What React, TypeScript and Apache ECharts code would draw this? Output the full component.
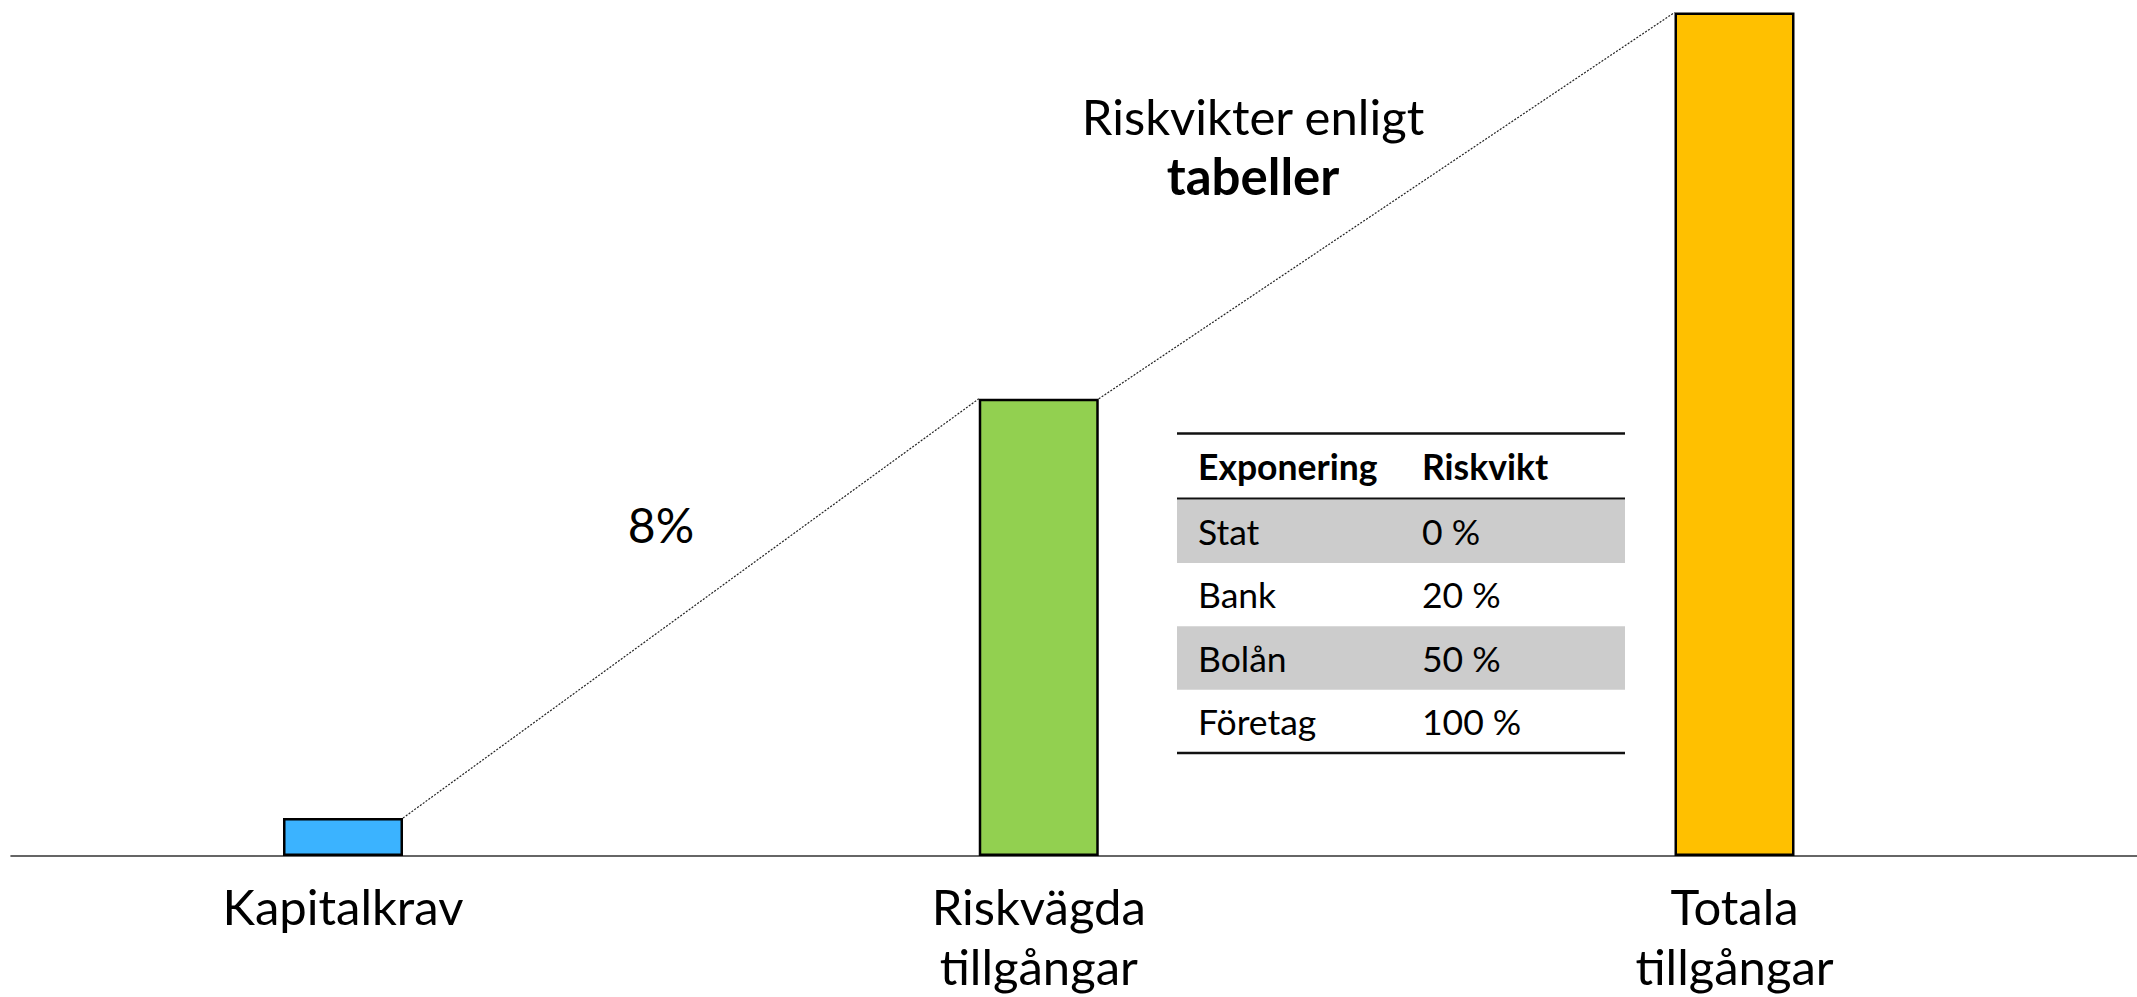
import React, { useEffect, useRef } from "react";
import * as echarts from "echarts";

// ---- data ----
const categories = ["Kapitalkrav", "Riskvägda\ntillgångar", "Totala\ntillgångar"];
const values = [4.5, 54.2, 100];
const barColors = ["#3BB3FF", "#92D050", "#FFC000"];
const rateLabel = "8%";
const annotationLines = ["Riskvikter enligt", "tabeller"];
const tableHeader = ["Exponering", "Riskvikt"];
const exposures = ["Stat", "Bank", "Bolån", "Företag"];
const riskWeights = ["0 %", "20 %", "50 %", "100 %"];

const FONT = "Lato, 'Open Sans', sans-serif";

export default function App() {
  const ref = useRef<HTMLDivElement>(null);

  useEffect(() => {
    if (!ref.current) return;
    const chart = echarts.init(ref.current, null, { renderer: "svg" });

    const gridLeft = 11;
    const pxPerUnit = 695.75;
    const xMin = -(343 - gridLeft) / pxPerUnit;
    const xMax = xMin + 2126 / pxPerUnit;
    const barWidth = 120;
    const half = barWidth / 2 / pxPerUnit;

    // table geometry
    const tX = 1177;
    const tW = 448;
    const tTop = 433.5;
    const headH = 65;
    const rowH = 63.4;
    const col1 = 1198;
    const col2 = 1422;
    const rowsTop = tTop + headH + 1;
    const tFont = 35.5;

    const tableEls: any[] = [];
    exposures.forEach((e, i) => {
      const top = rowsTop + i * rowH;
      if (i % 2 === 0) {
        tableEls.push({
          type: "rect",
          shape: { x: tX, y: top, width: tW, height: rowH },
          style: { fill: "#CCCCCC" },
          z: 1,
        });
      }
      tableEls.push({
        type: "text",
        x: col1,
        y: top + rowH / 2,
        style: { text: e, font: `${tFont}px ${FONT}`, fill: "#000", verticalAlign: "middle", align: "left" },
        z: 3,
      });
      tableEls.push({
        type: "text",
        x: col2,
        y: top + rowH / 2,
        style: { text: riskWeights[i], font: `${tFont}px ${FONT}`, fill: "#000", verticalAlign: "middle", align: "left" },
        z: 3,
      });
    });
    tableHeader.forEach((h, i) => {
      tableEls.push({
        type: "text",
        x: i === 0 ? col1 : col2,
        y: tTop + headH / 2,
        style: { text: h, font: `bold ${tFont}px ${FONT}`, fill: "#000", verticalAlign: "middle", align: "left" },
        z: 3,
      });
    });
    [tTop, tTop + headH, rowsTop + exposures.length * rowH].forEach((y, i) => {
      tableEls.push({
        type: "line",
        shape: { x1: tX, y1: y, x2: tX + tW, y2: y },
        style: { stroke: "#111", lineWidth: i === 1 ? 2 : 2.5 },
        z: 4,
      });
    });

    const option: any = {
      animation: false,
      backgroundColor: "#ffffff",
      grid: {
        left: gridLeft,
        right: 0,
        top: 12.5,
        bottom: 141,
        containLabel: false,
        outerBoundsMode: "none",
      },
      xAxis: {
        type: "value",
        min: xMin,
        max: xMax,
        splitLine: { show: false },
        axisTick: { show: false },
        axisLine: { show: true, onZero: false, lineStyle: { color: "#333", width: 1.6 } },
        axisLabel: {
          show: true,
          customValues: [0, 1, 2],
          formatter: (v: number) => categories[Math.round(v)] ?? "",
          fontFamily: FONT,
          fontSize: 49,
          lineHeight: 60,
          color: "#000",
          margin: 20,
          showMinLabel: true,
          showMaxLabel: true,
        },
      },
      yAxis: { type: "value", min: 0, max: 100, show: false },
      series: [
        {
          type: "bar",
          barWidth,
          data: values.map((v, i) => ({
            value: [i, v],
            itemStyle: { color: barColors[i] },
          })),
          itemStyle: { borderColor: "#000", borderWidth: 2.5 },
          z: 3,
        },
        {
          type: "line",
          symbol: "none",
          data: [
            [0 + half, values[0]],
            [1 - half, values[1]],
          ],
          lineStyle: { color: "#222", width: 1.2, type: [2, 1.5] },
          z: 2,
        },
        {
          type: "line",
          symbol: "none",
          data: [
            [1 + half, values[1]],
            [2 - half, values[2]],
          ],
          lineStyle: { color: "#222", width: 1.2, type: [2, 1.5] },
          z: 2,
        },
      ],
      graphic: [
        {
          type: "text",
          x: 661,
          y: 524,
          style: { text: rateLabel, font: `48px ${FONT}`, fill: "#000", align: "center", verticalAlign: "middle" },
        },
        {
          type: "text",
          x: 1253,
          y: 116,
          style: { text: annotationLines[0], font: `49px ${FONT}`, fill: "#000", align: "center", verticalAlign: "middle" },
        },
        {
          type: "text",
          x: 1253,
          y: 175,
          style: { text: annotationLines[1], font: `bold 51px ${FONT}`, fill: "#000", align: "center", verticalAlign: "middle" },
        },
        ...tableEls,
      ],
    };

    chart.setOption(option);
    return () => chart.dispose();
  }, []);

  return (
    <div
      ref={ref}
      style={{ position: "absolute", left: 0, top: 0, width: 2137, height: 997, background: "#fff" }}
    />
  );
}
